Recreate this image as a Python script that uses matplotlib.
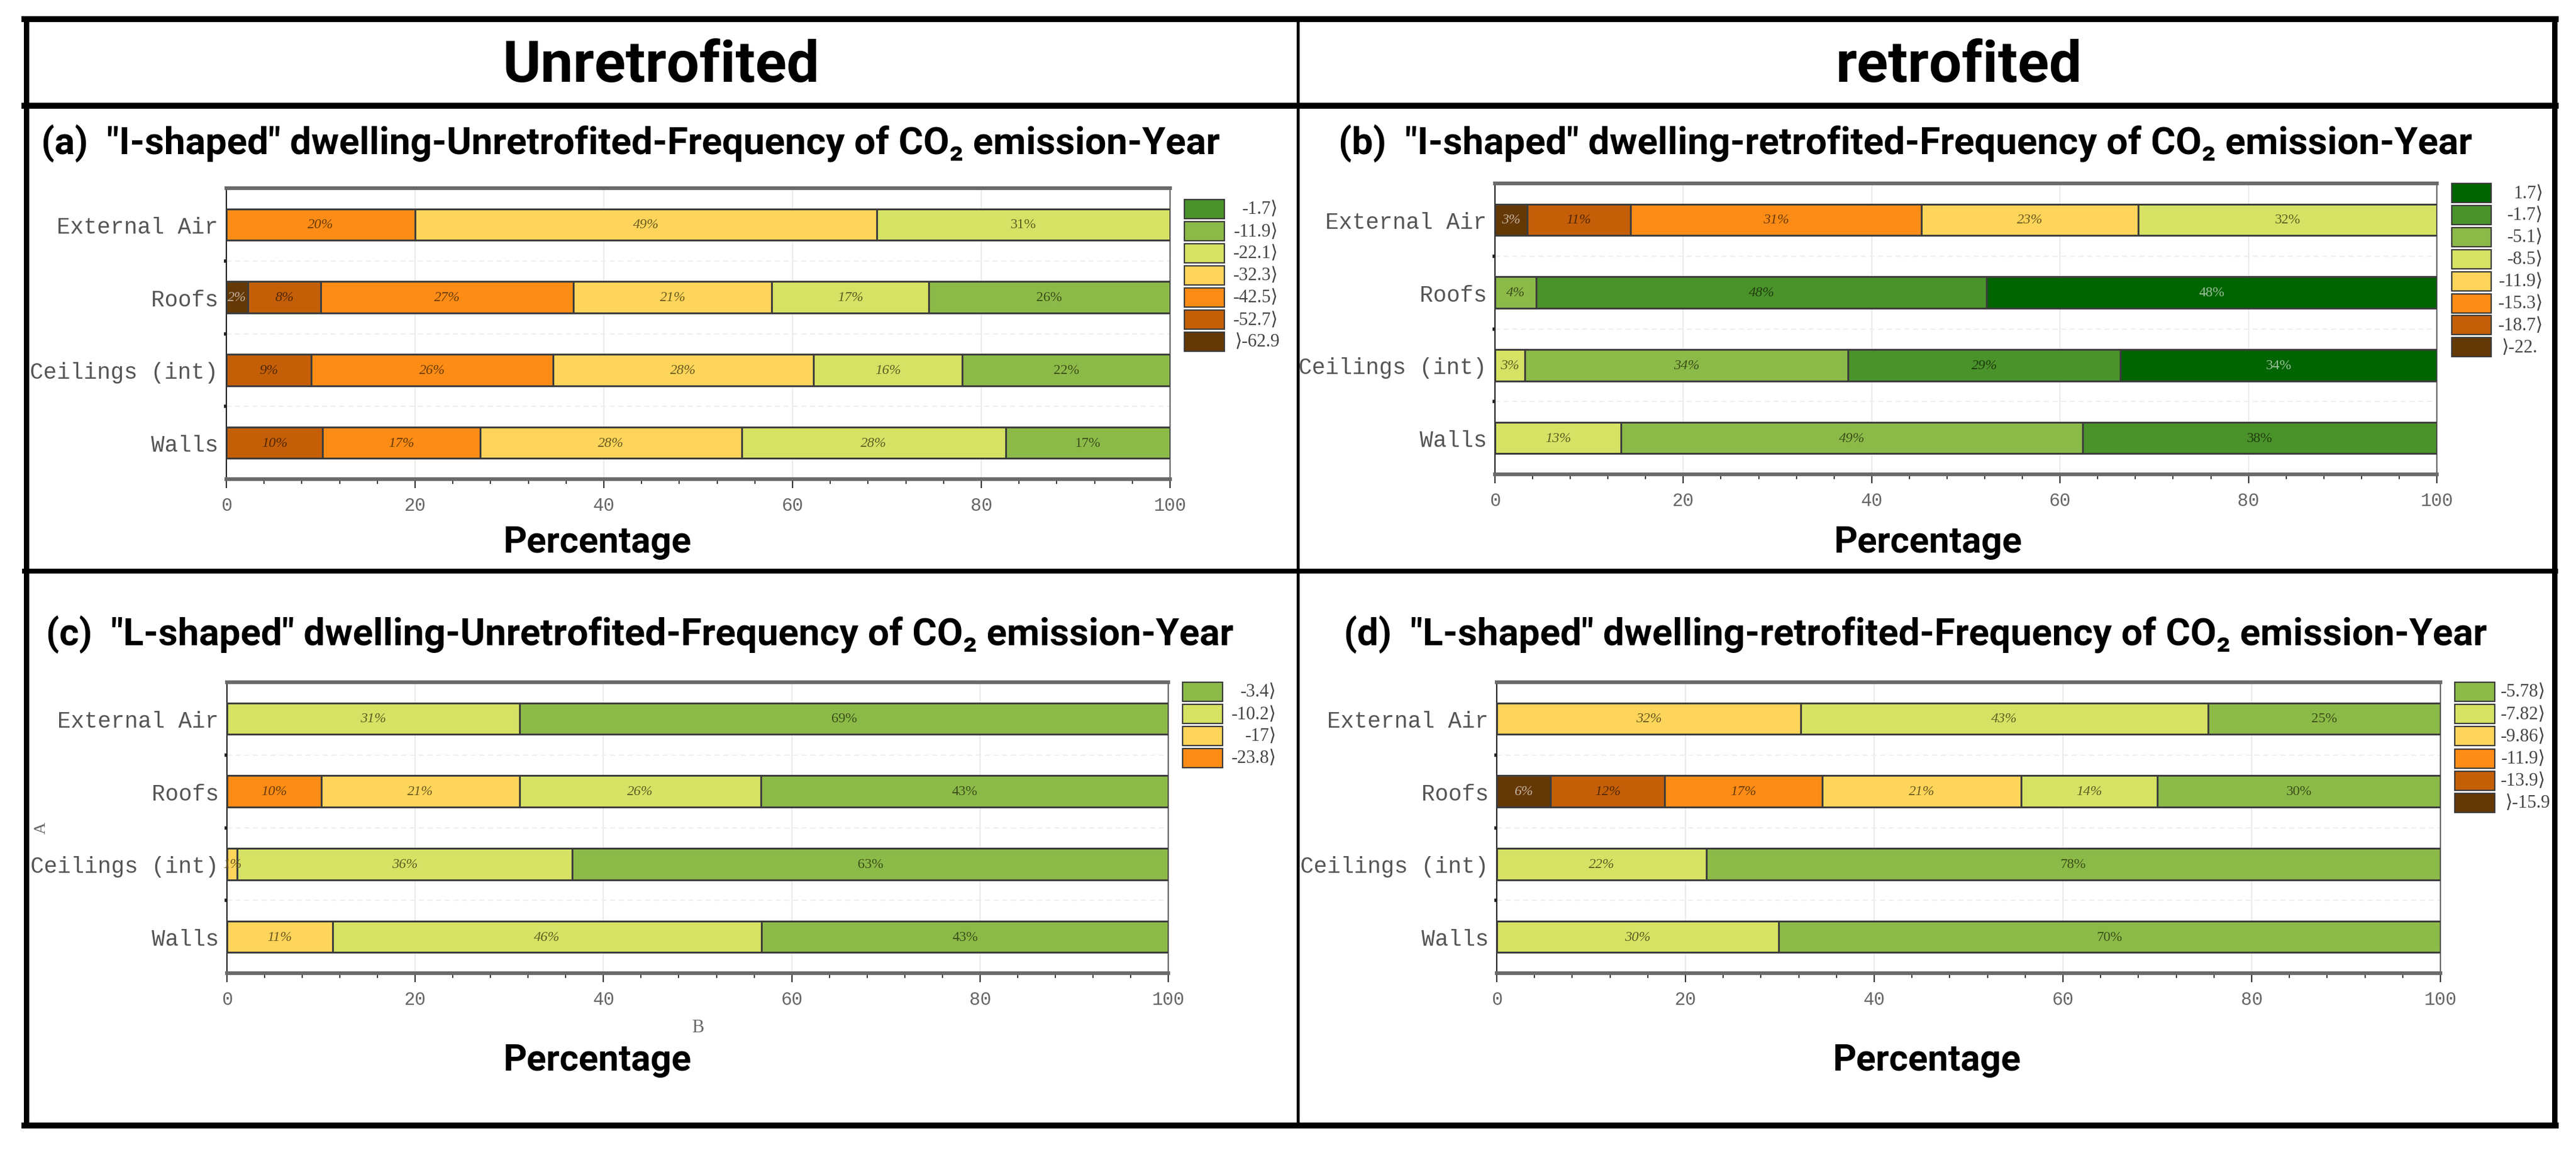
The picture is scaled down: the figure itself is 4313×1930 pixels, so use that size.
import matplotlib
matplotlib.use("Agg")
import matplotlib.pyplot as plt
import matplotlib.colors as mc
from matplotlib.lines import Line2D
from matplotlib.patches import Rectangle

# ---------------- data ----------------
categories = ['Walls', 'Ceilings (int)', 'Roofs', 'External Air']   # bottom -> top

a_legend = ['-1.7⟩', '-11.9⟩', '-22.1⟩', '-32.3⟩', '-42.5⟩', '-52.7⟩', '⟩-62.9']
a_walls = [0, 17.4, 28.0, 27.7, 16.7, 10.2, 0]
a_ceilings = [0, 22.0, 15.8, 27.6, 25.6, 9.0, 0]
a_roofs = [0, 25.6, 16.6, 21.0, 26.8, 7.7, 2.3]
a_external = [0, 0, 31.1, 48.9, 20.0, 0, 0]

b_legend = ['1.7⟩', '-1.7⟩', '-5.1⟩', '-8.5⟩', '-11.9⟩', '-15.3⟩', '-18.7⟩', '⟩-22.']
b_walls = [0, 37.6, 49.0, 13.4, 0, 0, 0, 0]
b_ceilings = [33.6, 28.9, 34.3, 3.2, 0, 0, 0, 0]
b_roofs = [47.8, 47.8, 4.4, 0, 0, 0, 0, 0]
b_external = [0, 0, 0, 31.7, 23.0, 30.9, 11.0, 3.4]

c_legend = ['-3.4⟩', '-10.2⟩', '-17⟩', '-23.8⟩']
c_walls = [43.2, 45.6, 11.2, 0]
c_ceilings = [63.3, 35.6, 1.1, 0]
c_roofs = [43.3, 25.6, 21.1, 10.0]
c_external = [68.9, 31.1, 0, 0]

d_legend = ['-5.78⟩', '-7.82⟩', '-9.86⟩', '-11.9⟩', '-13.9⟩', '⟩-15.9']
d_walls = [70.1, 29.9, 0, 0, 0, 0]
d_ceilings = [77.8, 22.2, 0, 0, 0, 0]
d_roofs = [30.0, 14.4, 21.1, 16.7, 12.1, 5.7]
d_external = [24.6, 43.2, 32.2, 0, 0, 0]

titles = ['(a)  "I-shaped" dwelling-Unretrofited-Frequency of CO₂ emission-Year',
          '(b)  "I-shaped" dwelling-retrofited-Frequency of CO₂ emission-Year',
          '(c)  "L-shaped" dwelling-Unretrofited-Frequency of CO₂ emission-Year',
          '(d)  "L-shaped" dwelling-retrofited-Frequency of CO₂ emission-Year']
headers = ['Unretrofited', 'retrofited']

# ---------------- style ----------------
DG = '#006400'
G2 = '#4a922a'
G3 = '#8cba48'
LT = '#d6e264'
YL = '#fed55a'
OR = '#fd8c16'
BR = '#c45f08'
DB = '#653906'

W, H = 4313, 1931
fig = plt.figure(figsize=(W / 100, H / 100), dpi=100)
fig.patch.set_facecolor('white')

TITLE_FONT = ['Roboto', 'DejaVu Sans']
SERIF = ['Liberation Serif', 'DejaVu Serif']
MONO = ['Liberation Mono', 'DejaVu Sans Mono']


def fr(x0, y0, x1, y1):
    return [x0 / W, 1 - y1 / H, (x1 - x0) / W, (y1 - y0) / H]


def fx(x):
    return x / W


def fy(y):
    return 1 - y / H


def label_color(c):
    r, g, b = mc.to_rgb(c)
    lum = 0.299 * r + 0.587 * g + 0.114 * b
    if lum < 0.42:
        return (r + (1 - r) * 0.6, g + (1 - g) * 0.6, b + (1 - b) * 0.6)
    return (r * 0.42, g * 0.42, b * 0.35)


panels = [
    dict(rect=(379, 316, 1959, 803), legend=a_legend, colors=[G2, G3, LT, YL, OR, BR, DB],
         rows=[a_walls, a_ceilings, a_roofs, a_external],
         leg=(1983, 2050, 335, 37.0, 2140), title=(69, 258), pct=(1000, 925), ab=False),
    dict(rect=(2503, 308, 4080, 795), legend=b_legend, colors=[DG, G2, G3, LT, YL, OR, BR, DB],
         rows=[b_walls, b_ceilings, b_roofs, b_external],
         leg=(4105, 4171, 308, 36.9, 4258), title=(2241, 258), pct=(3228, 925), ab=False),
    dict(rect=(380, 1143, 1956, 1630), legend=c_legend, colors=[G3, LT, YL, OR],
         rows=[c_walls, c_ceilings, c_roofs, c_external],
         leg=(1980, 2047, 1143, 37.0, 2137), title=(77, 1080), pct=(1000, 1792), ab=True),
    dict(rect=(2506, 1143, 4086, 1630), legend=d_legend, colors=[G3, LT, YL, OR, BR, DB],
         rows=[d_walls, d_ceilings, d_roofs, d_external],
         leg=(4110, 4177, 1143, 37.2, 4262), title=(2250, 1080), pct=(3226, 1792), ab=False),
]

for k, p in enumerate(panels):
    ax = fig.add_axes(fr(*p['rect']))
    ncls = len(p['legend'])
    for yi, row in enumerate(p['rows']):
        left = 0.0
        nz = [j for j in range(ncls) if row[j] > 0]
        last_j = min(nz)
        for j in range(ncls - 1, -1, -1):
            v = row[j]
            if v <= 0:
                continue
            col = p['colors'][j]
            ax.barh(yi, v, left=left, height=0.43, color=col,
                    edgecolor='#3d3d3d', linewidth=2.2, zorder=3)
            ax.text(left + v / 2, yi, f'{round(v)}%', ha='center', va='center',
                    fontsize=17, family=SERIF,
                    style='normal' if j == last_j else 'italic',
                    color=label_color(col), zorder=4)
            left += v
    ax.set_xlim(0, 100)
    ax.set_ylim(-0.5, 3.5)
    ax.set_yticks(range(len(categories)))
    ax.set_yticklabels(categories, family=MONO, fontsize=27, color='#555555')
    ax.set_yticks([0.5, 1.5, 2.5], minor=True)
    ax.set_xticks(range(0, 101, 20))
    ax.set_xticks(range(0, 101, 4), minor=True)
    for lab in ax.get_xticklabels():
        lab.set_family(MONO)
        lab.set_fontsize(22)
        lab.set_color('#666666')
    ax.tick_params(axis='y', which='major', length=0, pad=10)
    ax.tick_params(axis='y', which='minor', length=3, width=4, color='#222222')
    ax.tick_params(axis='x', which='major', length=11, width=1.6, color='#333333', pad=10, direction='out')
    ax.tick_params(axis='x', which='minor', length=6, width=1.4, color='#333333', direction='out')
    ax.grid(axis='x', which='major', color='#e6e6e6', linewidth=1.2, zorder=0)
    ax.grid(axis='y', which='minor', color='#eeeeee', linewidth=1.5, linestyle=(0, (4, 3)), zorder=0)
    ax.set_axisbelow(True)
    for s in ['top', 'bottom']:
        ax.spines[s].set_linewidth(4.5)
        ax.spines[s].set_color('#6a6a6a')
    ax.spines['left'].set_linewidth(1.6)
    ax.spines['left'].set_color('#222222')
    ax.spines['right'].set_linewidth(1.6)
    ax.spines['right'].set_color('#666666')
    if p['ab']:
        ax.set_xlabel('B', family=SERIF, fontsize=22, color='#666666', labelpad=12)
        fig.text(fx(69), fy(1386), 'A', rotation=90, ha='center', va='center',
                 family=SERIF, fontsize=20, color='#666666')

    # legend
    px0, px1, ptop, pitch, xend = p['leg']
    for i, (lab, col) in enumerate(zip(p['legend'], p['colors'])):
        y0 = ptop + pitch * i
        fig.add_artist(Rectangle((fx(px0), fy(y0 + 32)), (px1 - px0) / W, 32 / H,
                                 transform=fig.transFigure, facecolor=col,
                                 edgecolor='#3a3a3a', linewidth=1.6))
        if lab.startswith('⟩'):
            fig.text(fx(px1 + 18), fy(y0 + 16), lab, ha='left', va='center',
                     family=SERIF, fontsize=22, color='#444444')
        else:
            fig.text(fx(xend), fy(y0 + 16), lab, ha='right', va='center',
                     family=SERIF, fontsize=22, color='#444444')

    # titles and axis caption
    tx, ty = p['title']
    fig.text(fx(tx), fy(ty), titles[k], ha='left', va='baseline',
             family=TITLE_FONT, fontweight='bold', fontsize=45.5, color='black')
    cx, cy = p['pct']
    fig.text(fx(cx), fy(cy), 'Percentage', ha='center', va='baseline',
             family=TITLE_FONT, fontweight='bold', fontsize=44, color='black')

# header texts
fig.text(fx(1107), fy(137), headers[0], ha='center', va='baseline',
         family=TITLE_FONT, fontweight='bold', fontsize=70, color='black')
fig.text(fx(3280), fy(137), headers[1], ha='center', va='baseline',
         family=TITLE_FONT, fontweight='bold', fontsize=70, color='black')

# frame lines


def hline(y, x0, x1, lw_px):
    fig.add_artist(Line2D([fx(x0), fx(x1)], [fy(y), fy(y)], transform=fig.transFigure,
                          color='black', linewidth=lw_px * 0.72, solid_capstyle='projecting'))


def vline(x, y0, y1, lw_px):
    fig.add_artist(Line2D([fx(x), fx(x)], [fy(y0), fy(y1)], transform=fig.transFigure,
                          color='black', linewidth=lw_px * 0.72, solid_capstyle='projecting'))


hline(33, 41, 4279, 10)
hline(178, 41, 4279, 10)
hline(957, 41, 4279, 8)
hline(1885, 41, 4279, 10)
vline(44, 33, 1885, 9)
vline(4277, 33, 1885, 9)
vline(2173, 33, 1885, 5)

fig.savefig('out.png', dpi=100, facecolor='white')
